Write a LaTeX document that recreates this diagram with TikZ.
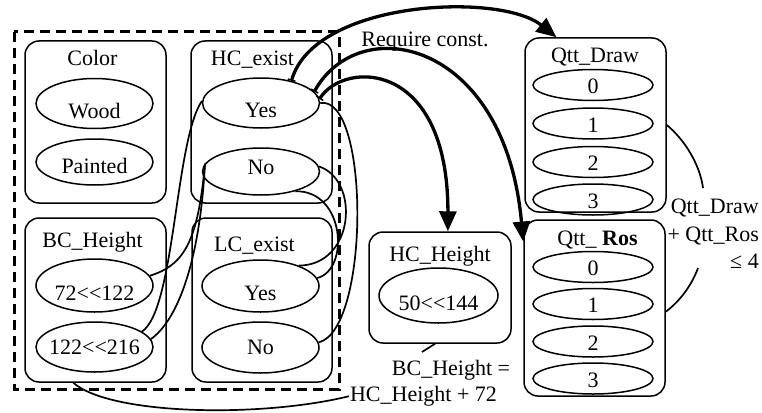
\documentclass[tikz,border=0pt]{standalone}
\usepackage{fontspec}
\setmainfont{Liberation Serif}
\usetikzlibrary{shapes,arrows.meta}

\tikzset{
  grp/.style={draw, rounded corners=14pt, line width=1.5pt, inner sep=0pt},
  grptitle/.style={anchor=base, inner sep=0pt},
  valtop/.style={draw, ellipse, line width=1.5pt, inner xsep=-5pt, inner ysep=0pt, minimum width=117pt, minimum height=50pt, text height=29pt, text depth=0pt},
  valbot/.style={valtop, text height=14pt},
  qval/.style={draw, ellipse, line width=1.5pt, inner sep=0pt, minimum width=120pt, minimum height=31pt, text height=17pt, text depth=0pt},
  lbl/.style={anchor=base, inner sep=1pt},
  rel/.style={line width=1.7pt},
  req/.style={line width=3.3pt, {Bar[width=8pt,line width=1.5pt]}-{Triangle[length=20pt,width=17pt]}}
}

\begin{document}
\begin{tikzpicture}[x=1pt, y=-1pt, font=\fontsize{22pt}{27.5pt}\selectfont]
   \useasboundingbox (0,0) rectangle (762,412);
   \draw[line width=3pt, dash pattern=on 10pt off 6pt] (14,32) rectangle (339,389);
   % left groups
   \node[grp, minimum width=141pt, minimum height=162pt] (color) at (95.5,122) {};
   \node[grptitle] (colort) at (92.5,65) {Color};
   \node[valtop] (wood) at (94.5,103.5) {Wood};
   \node[valbot, minimum height=46pt, text height=22pt] (painted) at (94.5,162) {Painted};
   \node[grp, minimum width=141pt, minimum height=162pt] (hcex) at (261.5,122) {};
   \node[grptitle] (hcext) at (252.5,65) {HC\_exist};
   \node[valtop] (hcyes) at (261,103) {Yes};
   \node[valbot, minimum height=47pt, text height=6pt] (hcno) at (261,171.5) {No};
   \node[grp, minimum width=141pt, minimum height=164pt] (bch) at (95.5,300) {};
   \node[grptitle] (bcht) at (92.5,247) {BC\_Height};
   \node[valtop, minimum height=53pt] (bc1) at (94.5,285.5) {72<{}<122};
   \node[valbot] (bc2) at (94.5,347) {122<{}<216};
   \node[grp, minimum width=140pt, minimum height=164pt] (lcex) at (262,300) {};
   \node[grptitle] (lcext) at (254.5,251) {LC\_exist};
   \node[valtop, minimum height=52pt] (lcyes) at (260.5,286) {Yes};
   \node[valbot, minimum height=51pt] (lcno) at (260.5,347.5) {No};
   % right groups
   \node[grp, minimum width=142pt, minimum height=111pt] (hch) at (440,287.5) {};
   \node[grptitle] (hcht) at (440,261) {HC\_Height};
   \node[valtop, minimum width=119pt, minimum height=55pt] (hch1) at (438.5,295.5) {50<{}<144};
   \node[grp, minimum width=141pt, minimum height=174pt] (qdraw) at (595.5,125) {};
   \node[grptitle] (qdrawt) at (595,63) {Qtt\_Draw};
   \node[qval] (qd0) at (593,85) {0};
   \node[qval] (qd1) at (593,123.5) {1};
   \node[qval] (qd2) at (593,162) {2};
   \node[qval] (qd3) at (593,199.5) {3};
   \node[grp, minimum width=141pt, minimum height=176pt] (qros) at (594.5,308) {};
   \node[grptitle] (qrost) at (597.5,245) {Qtt\_ \textbf{Ros}};
   \node[qval] (qr0) at (593,267) {0};
   \node[qval] (qr1) at (593,304) {1};
   \node[qval] (qr2) at (593,341.5) {2};
   \node[qval] (qr3) at (593,378.5) {3};
   % labels
   \node[lbl] (reqt) at (425,47) {Require const.};
   \node[lbl] (bceq) at (451,375) {BC\_Height =};
   \node[lbl] (hceq) at (423.5,401.5) {HC\_Height + 72};
   \node[anchor=east, inner sep=0pt, align=right] (qsum) at (759,234) {Qtt\_Draw\\+ Qtt\_Ros\\≤ 4};
   \coordinate (bceqtip) at (422,352);
   \coordinate (qsumtop) at (703,188);
   \coordinate (qsumbot) at (698,268);
   % requires
   \draw[req] (hcyes.36) .. controls (315,0) and (500,-8) .. (qdraw.114);
   \draw[req] (hcyes.12) .. controls (360,10) and (505,40) .. (qros.137);
   \draw[req] (hcyes.4) .. controls (345,60) and (448,60) .. (hch.82);
   % compatibility
   \draw[rel] (hcyes.178) .. controls (175,140) and (175,310) .. (bc2.18);
   \draw[rel] (hcno.172) .. controls (198,240) and (185,265) .. (bc1.10);
   \draw[rel] (hcno.172) .. controls (200,260) and (178,320) .. (bc2.8);
   \draw[rel] (hcyes.east) .. controls (370,95) and (370,330) .. (lcno.5);
   \draw[rel] (hcno.5) .. controls (360,180) and (355,265) .. (lcyes.28);
   \draw[rel] (hcno.-30) .. controls (345,190) and (350,270) .. (lcyes.8);
   % constraints
   \draw[rel] (bch.255) .. controls (110,415) and (260,418) .. (hceq.west);
   \draw[rel] (hch.265) -- (bceqtip);
   \draw[rel] (qdraw.east) .. controls (685,140) and (700,165) .. (qsumtop);
   \draw[rel] (qsumbot) .. controls (690,290) and (675,305) .. (qros.-3);
\end{tikzpicture}
\end{document}
